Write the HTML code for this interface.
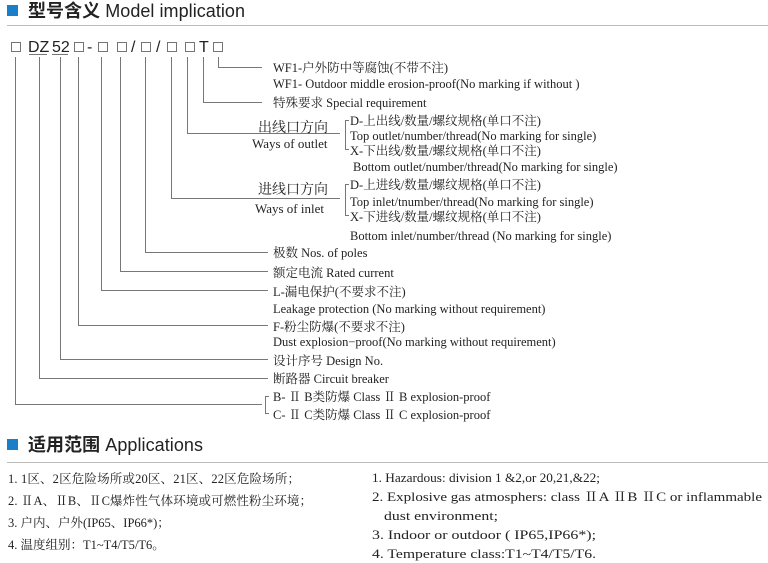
<!DOCTYPE html>
<html><head><meta charset="utf-8"><style>
html,body{margin:0;padding:0;background:#fff;}
svg{display:block}
.s{font-family:"Liberation Serif","Noto Serif CJK SC",serif;font-size:12.5px;fill:#222}
.h{font-family:"Liberation Sans","Noto Sans CJK SC",sans-serif;fill:#222}
.l{stroke:#777;stroke-width:1;fill:none}
.b{stroke:#666;stroke-width:0.9;fill:#fff}
</style></head><body>
<svg width="768" height="563" viewBox="0 0 768 563" xmlns="http://www.w3.org/2000/svg">
<rect x="7" y="5" width="11" height="11" fill="#1a7fc8"/>
<text x="28" y="17" class="h" font-size="18" textLength="217"><tspan font-weight="bold">型号含义</tspan> Model implication</text>
<line x1="7" y1="25.5" x2="768" y2="25.5" stroke="#bbb"/>
<g class="h" font-size="16">
<rect class="b" x="11.5" y="42.5" width="9" height="9"/>
<text x="28" y="52">DZ</text><text x="52" y="52">52</text>
<rect class="b" x="74.5" y="42.5" width="9" height="9"/>
<text x="87" y="52">-</text>
<rect class="b" x="98.5" y="42.5" width="9" height="9"/>
<rect class="b" x="117.5" y="42.5" width="9" height="9"/>
<text x="131" y="52">/</text>
<rect class="b" x="141.5" y="42.5" width="9" height="9"/>
<text x="156" y="52">/</text>
<rect class="b" x="167.5" y="42.5" width="9" height="9"/>
<rect class="b" x="185.5" y="42.5" width="9" height="9"/>
<text x="199" y="52">T</text>
<rect class="b" x="213.5" y="42.5" width="9" height="9"/>
</g>
<line class="l" x1="29" y1="54.5" x2="47" y2="54.5"/>
<line class="l" x1="52" y1="54.5" x2="68" y2="54.5"/>
<path class="l" d="M218.5 57V67.5H262"/>
<path class="l" d="M203.5 57V102.5H262"/>
<path class="l" d="M187.5 57V133.5H340"/>
<path class="l" d="M171.5 57V198.5H340"/>
<path class="l" d="M145.5 57V252.5H268"/>
<path class="l" d="M120.5 57V271.5H268"/>
<path class="l" d="M101.5 57V290.5H268"/>
<path class="l" d="M78.5 57V325.5H268"/>
<path class="l" d="M60.5 57V359.5H268"/>
<path class="l" d="M39.5 57V378.5H268"/>
<path class="l" d="M15.5 57V404.5H262"/>
<path class="l" d="M349 120.5H345.5V149.5H349"/>
<path class="l" d="M349 184.5H345.5V215.5H349"/>
<path class="l" d="M269 396.5H265.5V413.5H269"/>
<g class="s">
<text x="273" y="72">WF1-户外防中等腐蚀(不带不注)</text>
<text x="273" y="88">WF1- Outdoor middle erosion-proof(No marking  if without )</text>
<text x="273" y="107">特殊要求 Special requirement</text>
<text x="258" y="132" font-size="14">出线口方向</text>
<text x="252" y="148" font-size="13">Ways of outlet</text>
<text x="350" y="125">D-上出线/数量/螺纹规格(单口不注)</text>
<text x="350" y="140">Top outlet/number/thread(No marking for single)</text>
<text x="350" y="155">X-下出线/数量/螺纹规格(单口不注)</text>
<text x="353" y="171">Bottom outlet/number/thread(No marking  for single)</text>
<text x="258" y="194" font-size="14">进线口方向</text>
<text x="255" y="213" font-size="13">Ways of inlet</text>
<text x="350" y="189">D-上进线/数量/螺纹规格(单口不注)</text>
<text x="350" y="206">Top inlet/tnumber/thread(No marking for single)</text>
<text x="350" y="221">X-下进线/数量/螺纹规格(单口不注)</text>
<text x="350" y="240">Bottom inlet/number/thread (No marking for single)</text>
<text x="273" y="257">极数 Nos. of poles</text>
<text x="273" y="277">额定电流 Rated current</text>
<text x="273" y="296">L-漏电保护(不要求不注)</text>
<text x="273" y="313">Leakage protection (No marking without requirement)</text>
<text x="273" y="331">F-粉尘防爆(不要求不注)</text>
<text x="273" y="346">Dust explosion−proof(No marking without requirement)</text>
<text x="273" y="365">设计序号 Design No.</text>
<text x="273" y="383">断路器 Circuit breaker</text>
<text x="273" y="401">B- Ⅱ B类防爆 Class Ⅱ B  explosion-proof</text>
<text x="273" y="419">C- Ⅱ C类防爆 Class Ⅱ C  explosion-proof</text>
</g>
<rect x="7" y="439" width="11" height="11" fill="#1a7fc8"/>
<text x="28" y="451" class="h" font-size="18" textLength="175"><tspan font-weight="bold">适用范围</tspan> Applications</text>
<line x1="7" y1="462.5" x2="768" y2="462.5" stroke="#bbb"/>
<g class="s" font-size="13.5">
<text x="8" y="483" textLength="292">1. 1区、2区危险场所或20区、21区、22区危险场所；</text>
<text x="8" y="505" textLength="304">2. ⅡA、ⅡB、ⅡC爆炸性气体环境或可燃性粉尘环境；</text>
<text x="8" y="527">3. 户内、户外(IP65、IP66*)；</text>
<text x="8" y="549">4. 温度组别：T1~T4/T5/T6。</text>
</g>
<g class="s" font-size="14">
<text x="372" y="482" textLength="228" lengthAdjust="spacingAndGlyphs">1. Hazardous: division 1 &amp;2,or 20,21,&amp;22;</text>
<text x="372" y="501" textLength="390" lengthAdjust="spacingAndGlyphs">2. Explosive gas atmosphers: class ⅡA ⅡB ⅡC or inflammable</text>
<text x="384" y="520" textLength="114" lengthAdjust="spacingAndGlyphs">dust environment;</text>
<text x="372" y="539" textLength="224" lengthAdjust="spacingAndGlyphs">3. Indoor or outdoor ( IP65,IP66*);</text>
<text x="372" y="558" textLength="224" lengthAdjust="spacingAndGlyphs">4. Temperature class:T1~T4/T5/T6.</text>
</g>
</svg>
</body></html>
